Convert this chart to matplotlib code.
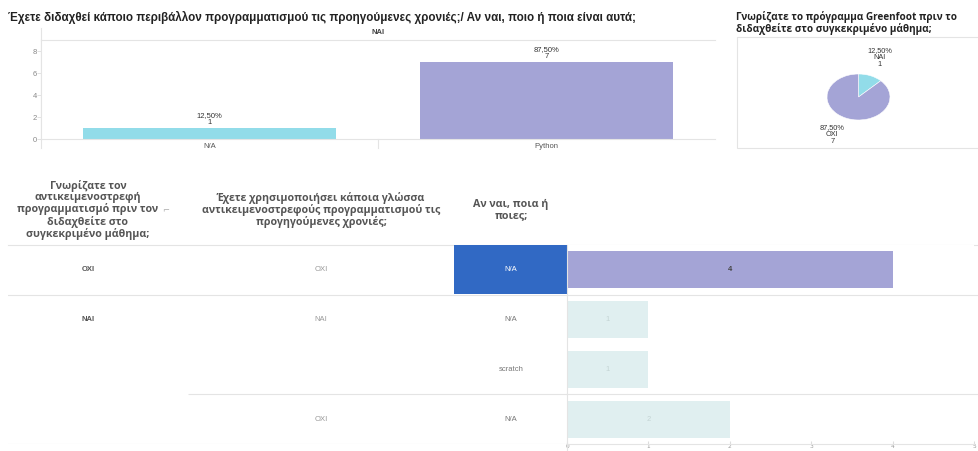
import matplotlib
matplotlib.use('Agg')
import matplotlib.pyplot as plt
from matplotlib.patches import Rectangle
import numpy as np

W, H = 979, 451

# top bar chart data
top_title = 'Έχετε διδαχθεί κάποιο περιβάλλον προγραμματισμού τις προηγούμενες χρονιές;/ Αν ναι, ποιο ή ποια είναι αυτά;'
top_panel = 'NAI'
top_cats = ['N/A', 'Python']
top_counts = [1, 7]
top_pcts = ['12,50%', '87,50%']

# pie data
pie_title = 'Γνωρίζατε το πρόγραμμα Greenfoot πριν το\nδιδαχθείτε στο συγκεκριμένο μάθημα;'
pie_cats = ['NAI', 'OXI']
pie_counts = [1, 7]
pie_pcts = ['12,50%', '87,50%']

# table + bars data
headers = ['Γνωρίζατε τον\nαντικειμενοστρεφή\nπρογραμματισμό πριν τον\nδιδαχθείτε στο\nσυγκεκριμένο μάθημα;',
           'Έχετε χρησιμοποιήσει κάποια γλώσσα\nαντικειμενοστρεφούς προγραμματισμού τις\nπρογηγούμενες χρονιές;',
           'Αν ναι, ποια ή\nποιες;']
col1 = ['OXI', 'NAI', '', '']
col2 = ['OXI', 'NAI', '', 'OXI']
col3 = ['N/A', 'N/A', 'scratch', 'N/A']
row_counts = [4, 1, 1, 2]
bar_ticks = [0, 1, 2, 3, 4, 5]

PURPLE = '#a4a4d6'
CYAN = '#92dce9'
PALE = '#e0eff0'
BLUE = '#3169c4'
LINE = '#e4e4e4'

narrow = ['Liberation Sans Narrow', 'Liberation Sans', 'DejaVu Sans']
small = ['Liberation Sans', 'DejaVu Sans']
heavy = ['Open Sans', 'DejaVu Sans']


def box(l, t, r, b):
    return [l / W, 1 - b / H, (r - l) / W, (b - t) / H]


fig = plt.figure(figsize=(W / 100, H / 100), dpi=100)

# overlay in pixel coords for titles and frame lines
ov = fig.add_axes([0, 0, 1, 1])
ov.set_xlim(0, W)
ov.set_ylim(H, 0)
ov.axis('off')

ov.text(8, 17, top_title, fontsize=8.4, fontweight='bold', family=narrow,
        va='center', ha='left', color='#222')
ov.text(378, 33, top_panel, fontsize=5.5, fontweight='bold', family=small,
        va='center', ha='center', color='#444')
ov.plot([41, 41], [28, 148], color=LINE, lw=0.8)

# --- top bar chart
ax_top = fig.add_axes(box(41, 40, 715, 139))
bars = ax_top.bar(top_cats, top_counts, width=0.75, color=[CYAN, PURPLE])
for b, p, c in zip(bars, top_pcts, top_counts):
    ax_top.text(b.get_x() + b.get_width() / 2, b.get_height() + 0.2, f'{p}\n{c}',
                ha='center', va='bottom', fontsize=5.5, family=small,
                color='#333', linespacing=1.0)
ax_top.set_xlim(-0.5, 1.5)
ax_top.set_ylim(0, 9)
ax_top.set_yticks([0, 2, 4, 6, 8])
ax_top.tick_params(axis='y', labelsize=5.5, labelcolor='#888', length=3, color='#ddd', width=0.6, pad=0)
ax_top.tick_params(axis='x', labelsize=5.5, labelcolor='#555', length=0, pad=3)
for lab in ax_top.get_xticklabels() + ax_top.get_yticklabels():
    lab.set_family(small)
for s in ['left', 'top', 'bottom']:
    ax_top.spines[s].set_color(LINE)
    ax_top.spines[s].set_linewidth(0.8)
ax_top.spines['right'].set_visible(False)
ax_top.plot([0.5, 0.5], [0, -0.8], color=LINE, lw=0.8, clip_on=False)

# --- pie
ov.text(736, 11, pie_title, fontsize=7.2, fontweight='bold', family=heavy,
        va='top', ha='left', color='#222', linespacing=0.95)
ov.add_patch(Rectangle((737, 37), 250, 111, fill=False, edgecolor=LINE, lw=0.8))
ax_pie = fig.add_axes(box(827, 74, 890, 120))
wedges, _ = ax_pie.pie(pie_counts, colors=[CYAN, PURPLE], startangle=90, counterclock=False,
                       wedgeprops=dict(linewidth=0.4, edgecolor='white'))
ax_pie.set_aspect('auto')
ax_pie.set_xlim(-1, 1)
ax_pie.set_ylim(-1, 1)
for w, cat, p, c, r in zip(wedges, pie_cats, pie_pcts, pie_counts, [1.85, 1.75]):
    ang = np.deg2rad((w.theta1 + w.theta2) / 2)
    ax_pie.text(r * np.cos(ang) * (0.95 if cat == 'NAI' else 1.25), r * np.sin(ang), f'{p}\n{cat}\n{c}',
                ha='center', va='center', fontsize=5.3, family=small, color='#333',
                linespacing=1.0, clip_on=False)

# --- table headers
for x, h in zip([88, 321, 511], headers):
    ov.text(x, 210, h, fontsize=7.7, fontweight='bold', family=heavy, ha='center',
            va='center', color='#555', linespacing=1.05)
ov.text(166, 211, '⌐', fontsize=6, color='#aaa', ha='center', va='center')
ov.plot([8, W], [245, 245], color=LINE, lw=0.8)

# --- table rows
ax_tab = fig.add_axes(box(8, 245, 567, 444))
ax_tab.set_xlim(8, 567)
ax_tab.set_ylim(3.5, -0.5)
ax_tab.axis('off')
rows = np.arange(len(col3))
ax_tab.add_patch(Rectangle((454, -0.49), 113, 0.98, color=BLUE, lw=0))
for i in rows:
    ax_tab.text(88, i, col1[i], fontsize=5.5, fontweight='bold', family=small,
                ha='center', va='center', color='#555')
    ax_tab.text(321, i, col2[i], fontsize=5.5, family=small,
                ha='center', va='center', color='#999')
    ax_tab.text(511, i, col3[i], fontsize=5.5, family=small,
                ha='center', va='center', color='white' if i == 0 else '#777')
ax_tab.axhline(0.5, color=LINE, lw=0.8)
ax_tab.axhline(3.5, color=LINE, lw=0.8)
ax_tab.hlines(2.5, 188, 567, color=LINE, lw=0.8)

# --- bars on the right
ax_bar = fig.add_axes(box(567, 245, 974, 444))
ax_bar.barh(rows, row_counts, height=0.74,
            color=[PURPLE if i == 0 else PALE for i in rows])
for i, c in zip(rows, row_counts):
    ax_bar.text(c / 2, i, str(c), ha='center', va='center', fontsize=5.5, family=small,
                fontweight='bold' if i == 0 else 'normal',
                color='#444' if i == 0 else '#c4d4d4')
ax_bar.set_ylim(3.5, -0.5)
ax_bar.set_xlim(0, 5)
ax_bar.set_yticks([])
ax_bar.set_xticks(bar_ticks)
ax_bar.tick_params(axis='x', labelsize=4.2, labelcolor='#999', direction='in',
                   length=2, color='#ddd', pad=0.3)
ax_bar.axhline(0.5, xmax=1.02, color=LINE, lw=0.8, clip_on=False)
ax_bar.axhline(2.5, xmax=1.02, color=LINE, lw=0.8, clip_on=False)
for s in ['top', 'right']:
    ax_bar.spines[s].set_visible(False)
ax_bar.spines['left'].set_color(LINE)
ax_bar.spines['bottom'].set_color(LINE)
ax_bar.plot([0, 0], [3.5, 3.7], color=LINE, lw=0.8, clip_on=False)

fig.savefig('out.png', dpi=100)
